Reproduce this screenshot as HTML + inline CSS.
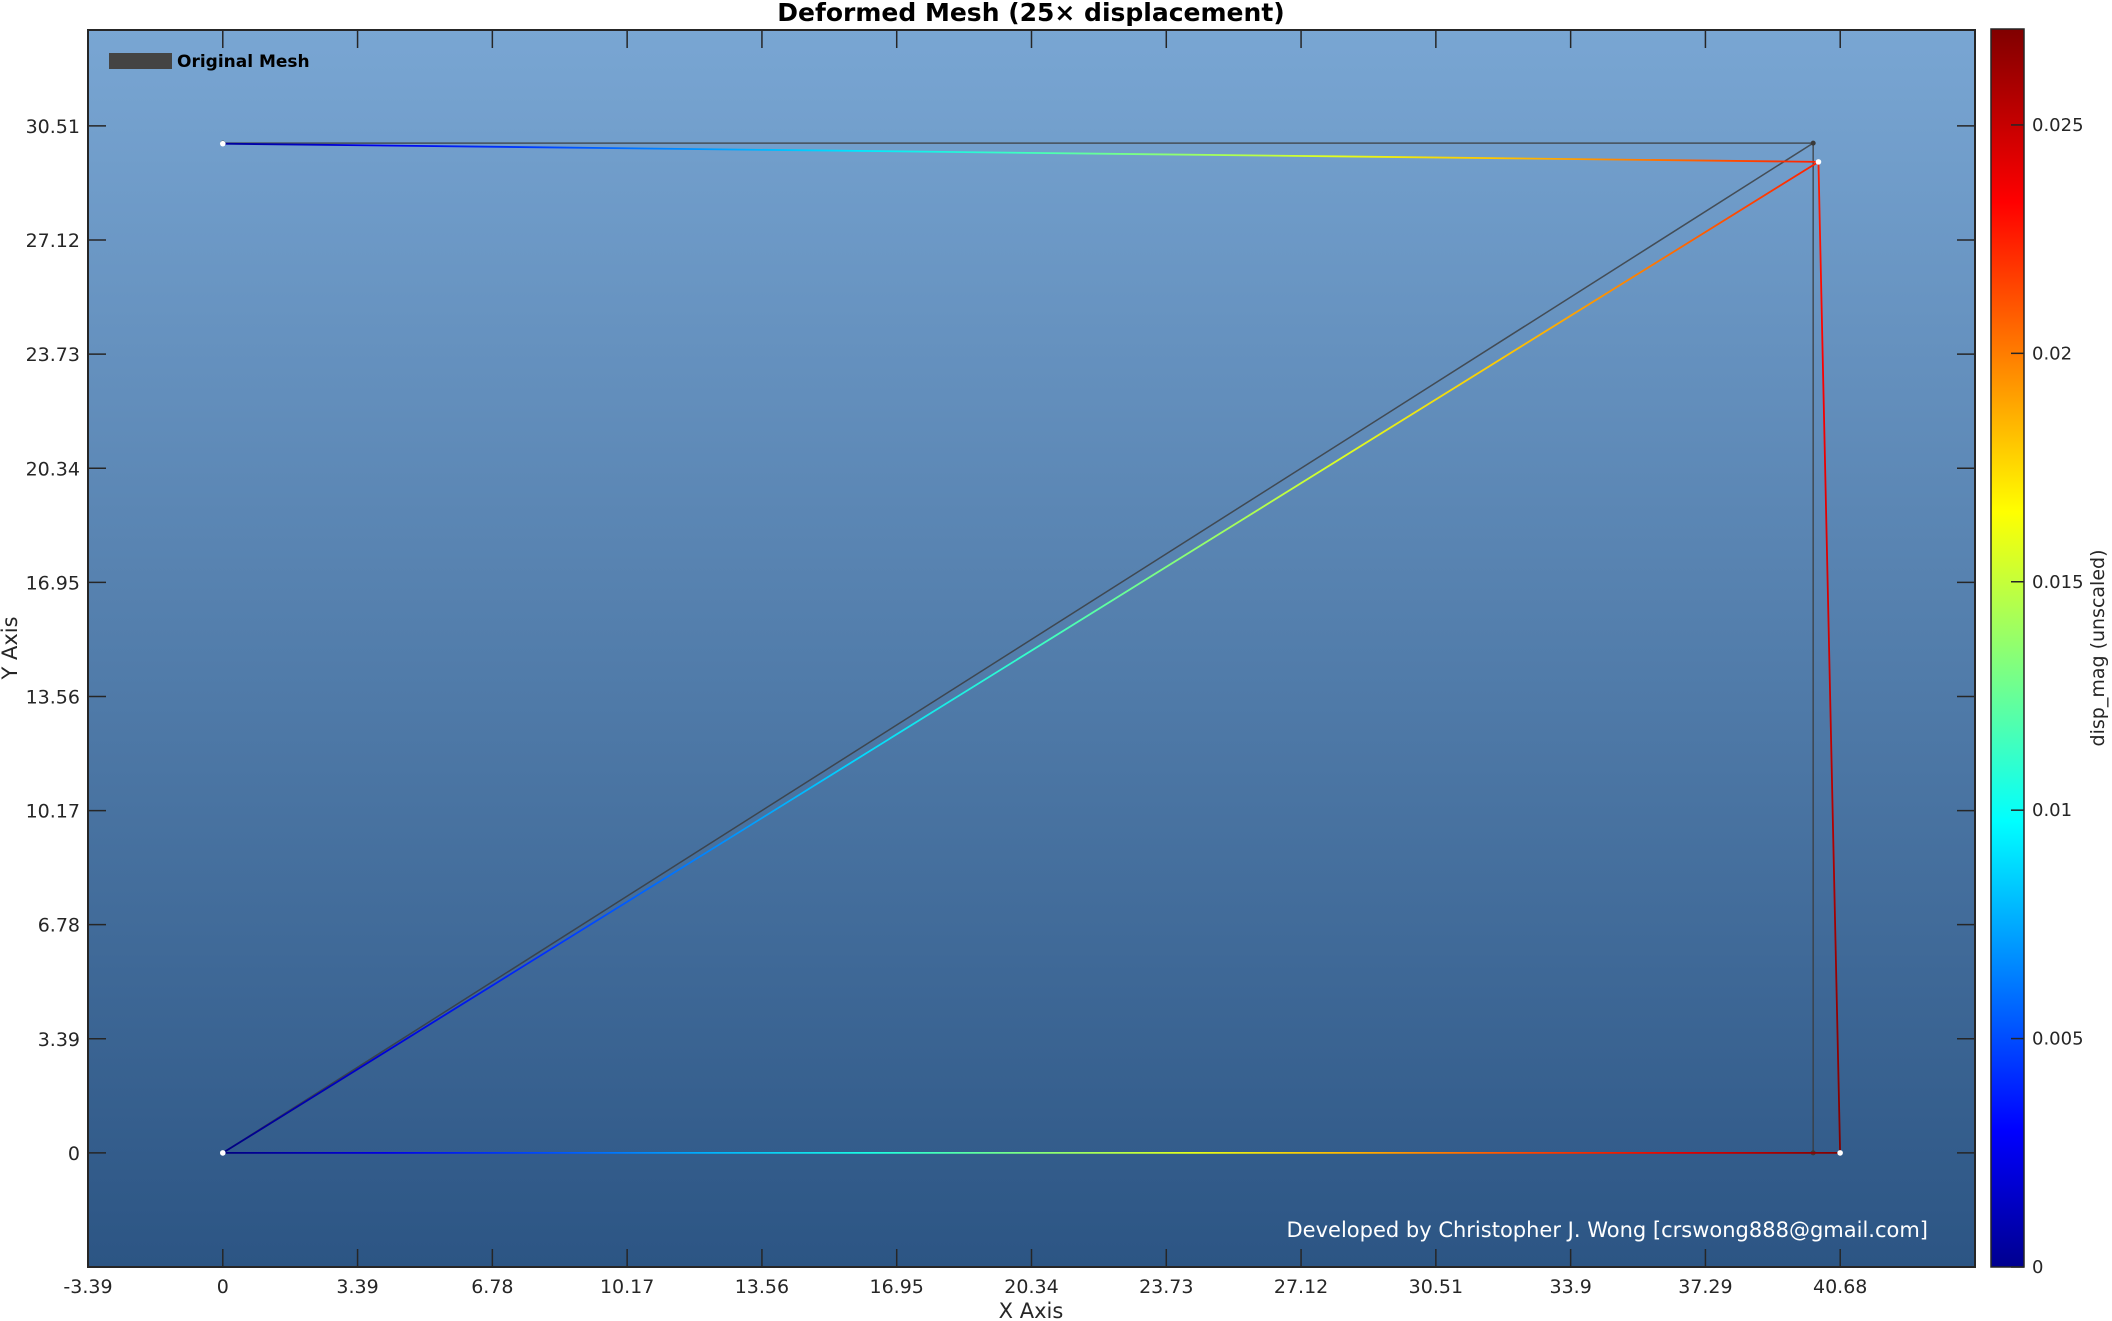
<!DOCTYPE html>
<html><head><meta charset="utf-8">
<style>
html,body{margin:0;padding:0;background:#fff;}
svg{display:block;font-family:"DejaVu Sans","Liberation Sans",sans-serif;}
</style></head>
<body>
<svg id="chart" width="2112" height="1321" viewBox="0 0 2112 1321" xmlns="http://www.w3.org/2000/svg">
<defs>
<linearGradient id="bg" x1="0" y1="0" x2="0" y2="1">
<stop offset="0" stop-color="#79a6d3"/><stop offset="1" stop-color="#2c5584"/>
</linearGradient>
<linearGradient id="jet" x1="0" y1="1" x2="0" y2="0">
<stop offset="0" stop-color="#00008f"/><stop offset="0.11" stop-color="#0000ff"/><stop offset="0.36" stop-color="#00ffff"/><stop offset="0.61" stop-color="#ffff00"/><stop offset="0.86" stop-color="#ff0000"/><stop offset="1" stop-color="#800000"/>
</linearGradient>
</defs>
<rect x="88" y="30" width="1887" height="1237" fill="url(#bg)"/>
<g id="grads"></g>
<g id="ticks"></g>
<g id="orig"></g>
<g id="def"></g>
<rect x="88" y="30" width="1887" height="1237" fill="none" stroke="#262626" stroke-width="2"/>
<text x="1031" y="21" text-anchor="middle" font-size="25" font-weight="bold" fill="#000">Deformed Mesh (25× displacement)</text>
<text x="1031" y="1318" text-anchor="middle" font-size="21" fill="#262626">X Axis</text>
<text transform="translate(17,648) rotate(-90)" text-anchor="middle" font-size="21" fill="#262626">Y Axis</text>
<rect x="109" y="53" width="63" height="16" fill="#444"/>
<text x="177" y="67" font-size="17" font-weight="bold" fill="#000">Original Mesh</text>
<text x="1928" y="1237" text-anchor="end" font-size="21" fill="#fff">Developed by Christopher J. Wong [crswong888@gmail.com]</text>
<rect x="1991" y="29" width="33" height="1238" fill="url(#jet)" stroke="#262626" stroke-width="1.5"/>
<g id="cbticks"></g>
<text transform="translate(2104,648) rotate(-90)" text-anchor="middle" font-size="19" fill="#262626">disp_mag (unscaled)</text>
</svg>
<script>
const xTicks=[-3.39,0,3.39,6.78,10.17,13.56,16.95,20.34,23.73,27.12,30.51,33.9,37.29,40.68];
const yTicks=[0,3.39,6.78,10.17,13.56,16.95,20.34,23.73,27.12,30.51];
const cbTicks=[0,0.005,0.01,0.015,0.02,0.025];
const nodeX=[0,40,40,0];
const nodeY=[0,0,30,30];
const dispX=[0,0.0271,0.0053,0];
const dispY=[0,0,-0.0223,-0.0007];
const edges=[[0,1],[1,2],[2,3],[0,2]];
const scaleFactor=25;
const cbMax=0.0271;
const X0=-3.39,X1=44.07,Y0=-3.39,Y1=33.36;
const L=88,R=1975,T=30,B=1267;
function sx(v){return L+(v-X0)/(X1-X0)*(R-L);}
function sy(v){return B-(v-Y0)/(Y1-Y0)*(B-T);}
function cy(v){return 1267-v/cbMax*(1267-29);}
const NS="http://www.w3.org/2000/svg";
function el(tag,attrs,parent){const e=document.createElementNS(NS,tag);for(const k in attrs)e.setAttribute(k,attrs[k]);document.getElementById(parent).appendChild(e);return e;}
function jet(t){t=Math.max(0,Math.min(1,t));
 function c(x){return Math.max(0,Math.min(1,1.5-Math.abs(4*t-x)));}
 const r=c(3),g=c(2),b=c(1);return `rgb(${Math.round(r*255)},${Math.round(g*255)},${Math.round(b*255)})`;}
for(const v of xTicks){const x=sx(v);
 const a=el('line',{x1:x,y1:B,x2:x,y2:B-18,stroke:'#262626','stroke-width':1.5},'ticks');
 
 const b=el('line',{x1:x,y1:T,x2:x,y2:T+18,stroke:'#262626','stroke-width':1.5},'ticks');
 
 const t=el('text',{x:x,y:1293,'text-anchor':'middle','font-size':19,fill:'#262626'},'ticks');t.textContent=String(v);
 }
for(const v of yTicks){const y=sy(v);
 const a=el('line',{x1:L,y1:y,x2:L+18,y2:y,stroke:'#262626','stroke-width':1.5},'ticks');
 
 const b=el('line',{x1:R,y1:y,x2:R-18,y2:y,stroke:'#262626','stroke-width':1.5},'ticks');
 
 const t=el('text',{x:80,y:y+7,'text-anchor':'end','font-size':19,fill:'#262626'},'ticks');t.textContent=String(v);
 }
for(const v of cbTicks){const y=cy(v);
 const a=el('line',{x1:2011,y1:y,x2:2024,y2:y,stroke:'#262626','stroke-width':1.5},'cbticks');
 
 const t=el('text',{x:2032,y:y+6,'font-size':18,fill:'#262626'},'cbticks');t.textContent=String(v);
 }
const mag=dispX.map((d,i)=>Math.hypot(d,dispY[i]));
const dx=nodeX.map((v,i)=>v+scaleFactor*dispX[i]);
const dy=nodeY.map((v,i)=>v+scaleFactor*dispY[i]);
edges.forEach((e,k)=>{const [a,b]=e;
 const o=el('line',{x1:sx(nodeX[a]),y1:sy(nodeY[a]),x2:sx(nodeX[b]),y2:sy(nodeY[b]),stroke:'#3a3a3a','stroke-opacity':0.8,'stroke-width':1.5},'orig');
 
 const id='eg'+k;
 const g=el('linearGradient',{id:id,gradientUnits:'userSpaceOnUse',x1:sx(dx[a]),y1:sy(dy[a]),x2:sx(dx[b]),y2:sy(dy[b])},'grads');
 for(let i=0;i<=10;i++){const f=i/10;const m=mag[a]+(mag[b]-mag[a])*f;
  const s=document.createElementNS(NS,'stop');s.setAttribute('offset',f);s.setAttribute('stop-color',jet(m/cbMax));g.appendChild(s);}
 const d=el('line',{x1:sx(dx[a]),y1:sy(dy[a]),x2:sx(dx[b]),y2:sy(dy[b]),stroke:`url(#${id})`,'stroke-width':1.8},'def');
 
});
nodeX.forEach((v,i)=>{
 const o=el('circle',{cx:sx(v),cy:sy(nodeY[i]),r:2.5,fill:'#3a3a3a'},'orig');
 
 const d=el('circle',{cx:sx(dx[i]),cy:sy(dy[i]),r:2.8,fill:'#fff'},'def');
 
});
</script>
</body></html>
